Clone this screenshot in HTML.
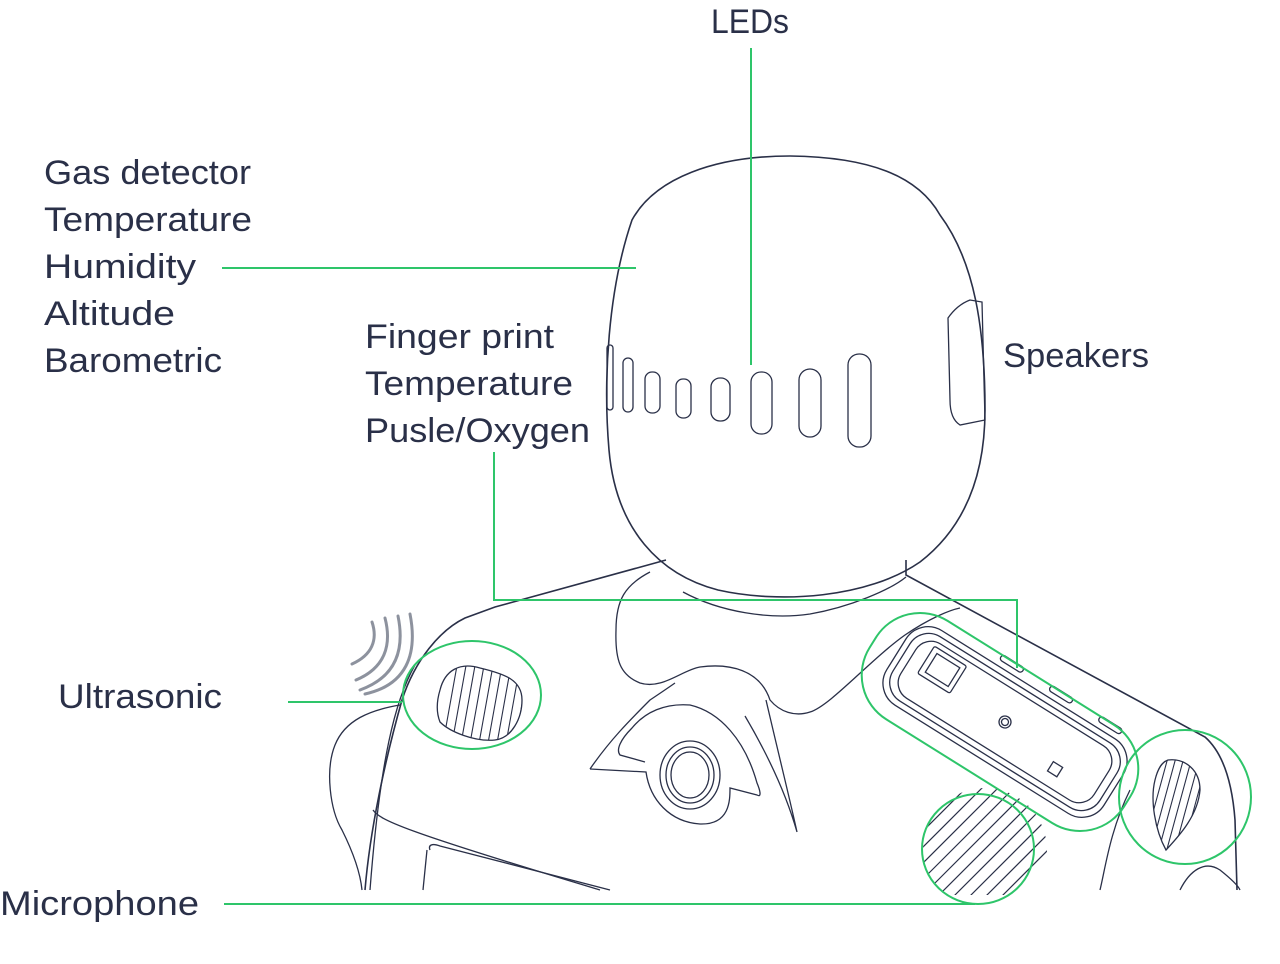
<!DOCTYPE html>
<html><head><meta charset="utf-8"><style>
html,body{margin:0;padding:0;background:#fff;}
svg{display:block}
text{font-family:"Liberation Sans","DejaVu Sans",sans-serif;font-size:34px;fill:#2a3048}
</style></head><body>
<svg width="1280" height="964" viewBox="0 0 1280 964" xmlns="http://www.w3.org/2000/svg">
<defs>
<linearGradient id="fade" x1="0" y1="0" x2="0" y2="1">
<stop offset="0.85" stop-color="#fff" stop-opacity="0"/><stop offset="1" stop-color="#fff" stop-opacity="1"/>
</linearGradient>
<clipPath id="ultra"><path d="M440 690 C445 670 460 662 480 668 C505 674 522 680 522 700 C522 718 512 738 495 740 C475 742 450 732 440 722 Z"/></clipPath>
<clipPath id="mic"><circle cx="985" cy="850" r="62"/></clipPath>
<clipPath id="drop"><path d="M1168 760 C1185 758 1200 770 1200 790 C1198 815 1180 835 1166 850 C1155 830 1150 800 1155 780 C1158 768 1162 762 1168 760 Z"/></clipPath>
</defs>
<g fill="none" stroke="#2a3048" stroke-width="1.3">
<path d="M632 220 C655 178 715 156 790 156 C870 157 918 176 940 215 C975 262 985 330 985 410 C985 470 968 525 920 562 C868 598 780 604 718 590 C660 575 616 530 609 450 C603 380 608 290 632 220 Z" stroke-width="1.6"/>
<path d="M948 318 C955 308 962 303 970 300 L982 302 L985 420 L960 425 C952 420 950 410 950 400 Z"/>
<rect x="607" y="345" width="6" height="65" rx="3"/>
<rect x="623" y="358" width="10" height="54" rx="5"/>
<rect x="645" y="372" width="15" height="41" rx="7"/>
<rect x="676" y="379" width="15" height="39" rx="7"/>
<rect x="711" y="378" width="19" height="43" rx="9"/>
<rect x="751" y="372" width="21" height="62" rx="10"/>
<rect x="799" y="369" width="22" height="68" rx="11"/>
<rect x="848" y="354" width="23" height="93" rx="11"/>
<path d="M666 560 L495 607 L465 618 C440 630 415 660 402 700 C385 760 370 830 365 890" stroke-width="1.6"/>
<path d="M906 560 L906 575 L1205 737 C1222 752 1232 780 1235 820 L1237 890" stroke-width="1.6"/>
<path d="M650 572 C625 585 616 600 616 630 C615 660 620 675 640 683 C662 690 682 670 700 667 C730 663 760 670 770 700 C780 712 795 717 810 712 C830 706 870 660 905 635 C930 618 950 610 960 608"/>
<path d="M683 592 C720 612 770 620 810 614 C850 607 890 590 906 577"/>
<path d="M400 705 C370 710 345 720 335 745 C325 770 330 810 342 830 C352 850 360 870 362 890"/>
<path d="M415 665 C395 700 380 760 370 890"/>
<path d="M590 769 C610 740 630 720 650 700 C665 690 675 683 675 683"/>
<path d="M590 769 L646 772 C650 800 670 822 700 824 C730 825 730 800 730 788 L757 795 C762 798 760 790 757 783 C745 740 720 712 690 705 C665 703 645 712 632 728 C620 740 616 750 620 755 L645 762"/>
<path d="M766 700 C780 760 790 800 797 832 C785 790 765 750 745 716"/>
<ellipse cx="690" cy="775" rx="24" ry="28"/>
<ellipse cx="690" cy="775" rx="19" ry="23"/>
<ellipse cx="690" cy="775" rx="30" ry="34"/>
<path d="M430 850 C428 845 432 843 440 846 L610 890"/>
<path d="M373 810 C380 820 400 830 600 890"/>
<path d="M427 850 L423 890"/>
<path d="M440 690 C445 670 460 662 480 668 C505 674 522 680 522 700 C522 718 512 738 495 740 C475 742 450 732 440 722 C436 712 437 700 440 690 Z"/>
<g clip-path="url(#ultra)" stroke-width="1.1">
<path d="M440 760 L458 660 M449 760 L467 660 M458 760 L476 660 M467 760 L485 660 M476 760 L494 660 M485 760 L503 660 M494 760 L512 660 M503 760 L521 660 M512 760 L530 660"/>
</g>
<g transform="translate(1005 722) rotate(32)">
<rect x="-128" y="-44" width="256" height="88" rx="26"/>
<rect x="-122" y="-38" width="244" height="76" rx="22"/>
<rect x="-114" y="-32" width="228" height="64" rx="18"/>
<rect x="-100" y="-27" width="38" height="32" rx="2"/>
<rect x="-94" y="-22" width="27" height="22"/>
<circle cx="0" cy="0" r="6"/><circle cx="0" cy="0" r="3.5"/>
<rect x="62" y="8" width="11" height="11"/>
<rect x="-38" y="-56" width="26" height="6" rx="3"/>
<rect x="20" y="-56" width="26" height="6" rx="3"/>
<rect x="78" y="-56" width="26" height="6" rx="3"/>
</g>
<path d="M1168 760 C1185 758 1200 770 1200 790 C1198 815 1180 835 1166 850 C1155 830 1150 800 1155 780 C1158 768 1162 762 1168 760 Z"/>
<g clip-path="url(#drop)" stroke-width="1.1">
<path d="M1140 860 L1170 750 M1148 860 L1178 750 M1156 860 L1186 750 M1164 860 L1194 750 M1172 860 L1202 750 M1180 860 L1210 750"/>
</g>
<path d="M1130 790 C1110 830 1105 870 1100 890"/>
<path d="M1180 890 C1190 870 1205 860 1220 870 C1230 878 1238 885 1240 890"/>
<g clip-path="url(#mic)" stroke-width="1.2">
<path d="M910 860 L1000 770 M918 868 L1008 778 M926 876 L1016 786 M934 884 L1024 794 M942 892 L1032 802 M950 900 L1040 810 M958 908 L1048 818 M966 916 L1056 826 M974 924 L1064 834 M902 852 L992 762 M894 844 L984 754 M886 836 L976 746"/>
</g>
</g>
<g fill="none" stroke="#8d929e" stroke-width="3" stroke-linecap="round">
<path d="M372 622 C378 640 372 655 352 664"/>
<path d="M385 618 C392 645 385 668 356 680"/>
<path d="M398 616 C405 650 396 677 360 690"/>
<path d="M410 614 C418 655 406 685 365 694"/>
</g>
<rect x="300" y="870" width="980" height="30" fill="url(#fade)"/>
<rect x="300" y="895" width="980" height="69" fill="#fff"/>
<g fill="none" stroke="#2ec56a" stroke-width="2">
<path d="M751 48 L751 365"/>
<path d="M222 268 L636 268"/>
<path d="M494 452 L494 600 L1017 600 L1017 668"/>
<path d="M288 702 L402 702"/>
<path d="M224 904 L975 904"/>
<ellipse cx="472" cy="695" rx="69" ry="54"/>
<ellipse cx="978" cy="849" rx="56" ry="55"/>
<ellipse cx="1185" cy="797" rx="66" ry="67"/>
<rect x="-150" y="-58" width="300" height="116" rx="52" transform="translate(1000 722) rotate(32)"/>
</g>
<text x="711" y="33" textLength="78" lengthAdjust="spacingAndGlyphs">LEDs</text>
<text x="44" y="184" textLength="207" lengthAdjust="spacingAndGlyphs">Gas detector</text>
<text x="44" y="231" textLength="208" lengthAdjust="spacingAndGlyphs">Temperature</text>
<text x="44" y="278" textLength="152" lengthAdjust="spacingAndGlyphs">Humidity</text>
<text x="44" y="325" textLength="131" lengthAdjust="spacingAndGlyphs">Altitude</text>
<text x="44" y="372" textLength="178" lengthAdjust="spacingAndGlyphs">Barometric</text>
<text x="365" y="348" textLength="189" lengthAdjust="spacingAndGlyphs">Finger print</text>
<text x="365" y="395" textLength="208" lengthAdjust="spacingAndGlyphs">Temperature</text>
<text x="365" y="442" textLength="225" lengthAdjust="spacingAndGlyphs">Pusle/Oxygen</text>
<text x="1003" y="367" textLength="146" lengthAdjust="spacingAndGlyphs">Speakers</text>
<text x="58" y="708" textLength="164" lengthAdjust="spacingAndGlyphs">Ultrasonic</text>
<text x="0" y="915" textLength="199" lengthAdjust="spacingAndGlyphs">Microphone</text>
</svg>
</body></html>
